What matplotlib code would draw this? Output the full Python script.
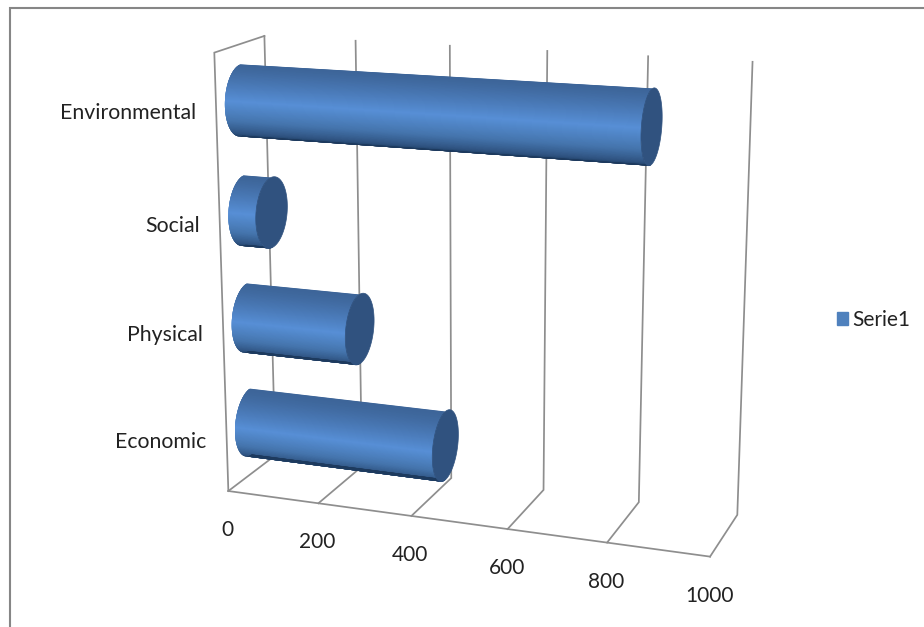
import numpy as np
import matplotlib
matplotlib.use('Agg')
from matplotlib import pyplot as plt
from matplotlib.collections import PolyCollection
from matplotlib.colors import LinearSegmentedColormap
from matplotlib.patches import Patch, Polygon

categories = ['Economic', 'Physical', 'Social', 'Environmental']
values = [430, 248, 60, 840]
ticks = [0, 200, 400, 600, 800, 1000]
series_name = 'Serie1'

GRID = '#8e8e8e'
CAP = '#30527f'
TEXT = '#222222'
RADIUS_H = 0.08
RADIUS_D = 0.33

plt.rcParams['font.family'] = ['Lato', 'DejaVu Sans']

# box corners and grid ends on the page, used to fit the camera
# (value, depth, height) -> (px, py)
anchors = [
    (0, 0, 0, 229, 492), (0, 1, 0, 273, 452), (0, 1, 1, 265, 37), (0, 0, 1, 213, 52),
    (200, 0, 0, 319, 504), (400, 0, 0, 412, 516), (600, 0, 0, 508, 529),
    (800, 0, 0, 607, 542), (1000, 0, 0, 709, 556),
    (400, 1, 0, 452, 478), (600, 1, 0, 544, 492), (800, 1, 0, 639, 503), (1000, 1, 0, 737, 515),
    (200, 1, 1, 356, 42), (400, 1, 1, 450, 46), (600, 1, 1, 548, 50), (800, 1, 1, 648, 56),
    (1000, 1, 1, 752, 61),
]


def fit_camera(points):
    rows = []
    for v, d, h, px, py in points:
        X = [v / 1000, d, h, 1]
        rows.append(X + [0, 0, 0, 0] + [-px * c for c in X])
        rows.append([0, 0, 0, 0] + X + [-py * c for c in X])
    return np.linalg.svd(np.array(rows))[2][-1].reshape(3, 4)


camera = fit_camera(anchors)


def project(v, d, h):
    v, d, h = np.broadcast_arrays(np.asarray(v, float), d, h)
    X = np.stack([v / 1000, d, h, np.ones_like(d, dtype=float)])
    x, y, w = camera @ X
    return np.stack([x / w, y / w], axis=-1)


def draw_cylinder(ax, value, center, cmap):
    # front half of the barrel; strips overlap the next ones so no seams show
    theta = np.linspace(np.pi * 0.5, np.pi * 1.5, 121)
    d = 0.5 + RADIUS_D * np.cos(theta)
    h = center + RADIUS_H * np.sin(theta)
    start = project(0, d, h)
    end = project(value, d, h)
    quads = []
    for i in range(len(theta) - 1):
        j = min(i + 4, len(theta) - 1)
        quads.append(np.vstack([start[i:j + 1], end[i:j + 1][::-1]]))
    shade = 0.5 - 0.5 * np.sin((theta[:-1] + theta[1:]) / 2)
    strips = PolyCollection(quads, facecolors=cmap(shade), edgecolors='none', zorder=3)
    ax.add_collection(strips)
    around = np.linspace(0, 2 * np.pi, 121)
    cap = project(value, 0.5 + RADIUS_D * np.cos(around), center + RADIUS_H * np.sin(around))
    ax.add_patch(Polygon(cap, closed=True, facecolor=CAP, edgecolor=CAP, linewidth=0.5, zorder=4))


fig = plt.figure(figsize=(9.24, 6.27), dpi=100)
ax = fig.add_axes([0, 0, 1, 1])
ax.set_xlim(0, 924)
ax.set_ylim(627, 0)
ax.axis('off')

# outer chart frame
ax.plot([10, 10, 924], [627, 8, 8], color='#868686', lw=1.5, solid_capstyle='butt', solid_joinstyle='miter')

# walls and floor
line_style = dict(color=GRID, lw=1.25, zorder=1, solid_joinstyle='miter')
for t in ticks:
    path = project([t, t, t], [0, 1, 1], [0, 0, 1])
    ax.plot(path[:, 0], path[:, 1], **line_style)
edge = project([0, 1000], 0, 0)
ax.plot(edge[:, 0], edge[:, 1], **line_style)
side = project(0, [0, 0, 1], [0, 1, 1])
ax.plot(side[:, 0], side[:, 1], **line_style)

barrel = LinearSegmentedColormap.from_list('barrel', [
    (0, '#3d6599'), (0.42, '#578fd6'), (0.7, '#4575ad'), (0.9, '#2f5381'), (1, '#1d3a5e'),
])
slot = 1 / len(categories)
for i, (name, value) in enumerate(zip(categories, values)):
    center = slot * (i + 0.5)
    draw_cylinder(ax, value, center, barrel)
    px, py = project(0, 0, center)
    ax.text(px - 20, py + 3, name, ha='right', va='center', fontsize=15.3, color=TEXT)

for t in ticks:
    px, py = project(t, 0, 0)
    ax.text(px - 1, py + 39, str(t), ha='center', va='center', fontsize=15, color=TEXT)

ax.legend(handles=[Patch(facecolor='#4f81bd', edgecolor='#4f81bd', label=series_name)],
          loc='center left', bbox_to_anchor=(837 / 924, 1 - 320 / 627), frameon=False,
          fontsize=15, handlelength=0.55, handleheight=0.55, handletextpad=0.2,
          labelcolor=TEXT, borderpad=0, borderaxespad=0)

fig.savefig('out.png', dpi=100)
